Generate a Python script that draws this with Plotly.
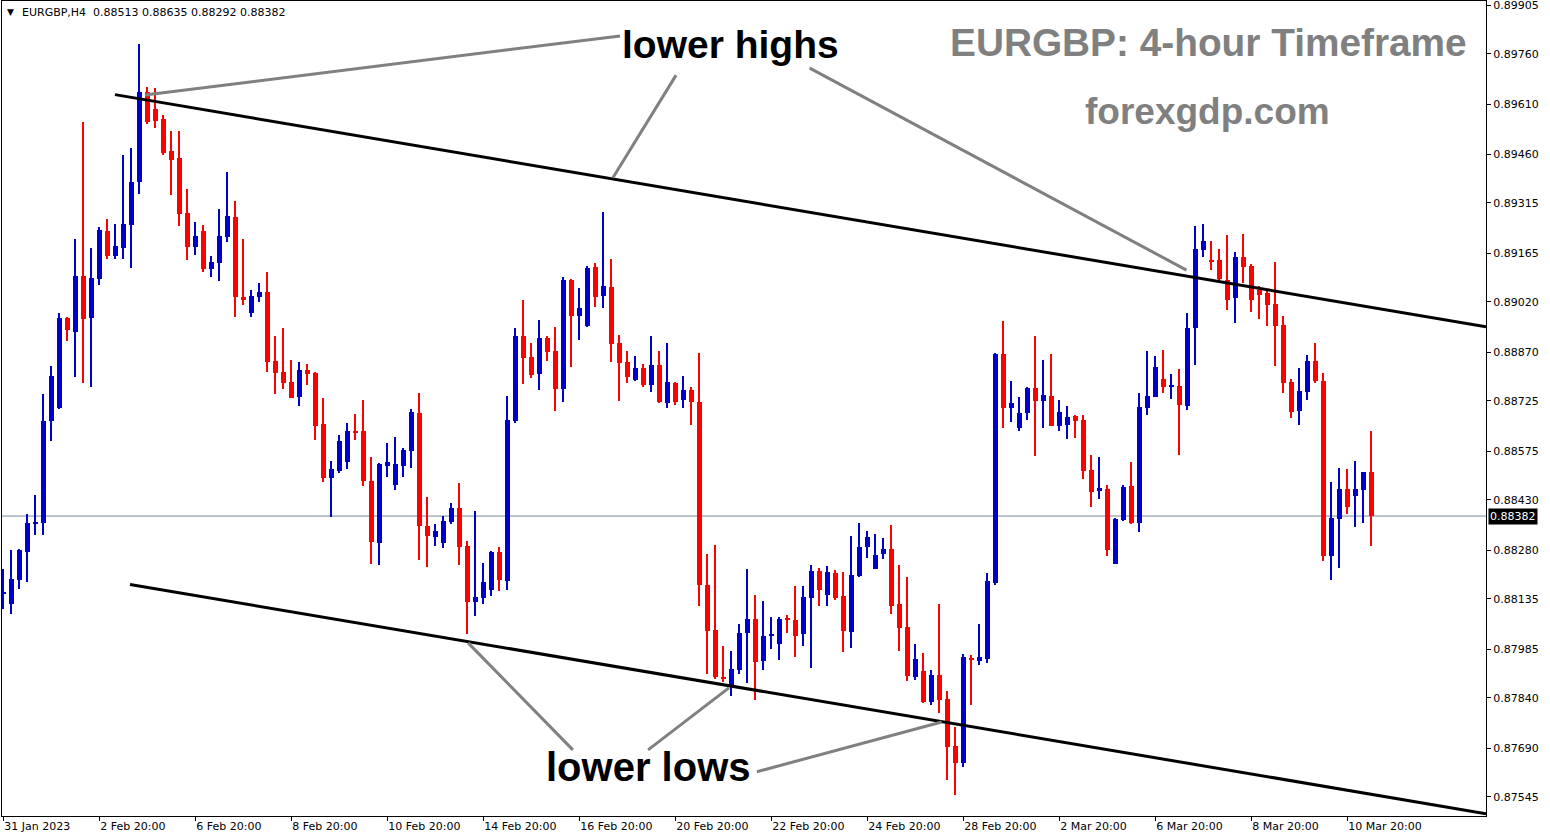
import plotly.graph_objects as go

# ---------------- data (EURGBP H4 candles) ----------------
opens = [0.88150, 0.88120, 0.88192, 0.88275, 0.88358, 0.88362, 0.88664, 0.88703, 0.88971, 0.88932,
         0.89098, 0.88972, 0.89089, 0.89232, 0.89157, 0.89181, 0.89250, 0.89378, 0.89646, 0.89595,
         0.89565, 0.89470, 0.89449, 0.89285, 0.89184, 0.89232, 0.89118, 0.89136, 0.89214, 0.89273,
         0.89035, 0.88987, 0.89036, 0.89050, 0.88844, 0.88811, 0.88782, 0.88738, 0.88817, 0.88808,
         0.88656, 0.88496, 0.88517, 0.88544, 0.88636, 0.88636, 0.88487, 0.88303, 0.88532, 0.88476,
         0.88532, 0.88577, 0.88689, 0.88353, 0.88321, 0.88303, 0.88365, 0.88406, 0.88293, 0.88127,
         0.88139, 0.88163, 0.88275, 0.88189, 0.88666, 0.88919, 0.88856, 0.88806, 0.88913, 0.88874,
         0.88762, 0.89086, 0.88979, 0.88949, 0.89124, 0.89039, 0.89065, 0.88898, 0.88841, 0.88786,
         0.88823, 0.88774, 0.88832, 0.88720, 0.88779, 0.88729, 0.88758, 0.88723, 0.88177, 0.88043,
         0.87901, 0.87877, 0.87924, 0.88032, 0.88075, 0.87951, 0.88026, 0.88002, 0.88076, 0.88072,
         0.88029, 0.88139, 0.88218, 0.88148, 0.88212, 0.88144, 0.88035, 0.88204, 0.88291, 0.88225,
         0.88270, 0.88284, 0.88120, 0.88052, 0.87903, 0.87920, 0.87829, 0.87908, 0.87837, 0.87697,
         0.87647, 0.87956, 0.87951, 0.87957, 0.88181, 0.88865, 0.88705, 0.88645, 0.88690, 0.88764,
         0.88726, 0.88740, 0.88651, 0.88654, 0.88680, 0.88668, 0.88519, 0.88458, 0.88463, 0.88240,
         0.88370, 0.88472, 0.88362, 0.88705, 0.88738, 0.88791, 0.88768, 0.88770, 0.88711, 0.88943,
         0.89176, 0.89145, 0.89145, 0.89086, 0.89033, 0.89154, 0.89127, 0.89056, 0.89047, 0.89014,
         0.88952, 0.88782, 0.88696, 0.88753, 0.88844, 0.88785, 0.88264, 0.88373, 0.88463, 0.88443,
         0.88461, 0.88513]
highs = [0.88224, 0.88281, 0.88283, 0.88388, 0.88445, 0.88746, 0.88829, 0.88987, 0.88975, 0.89208,
         0.89556, 0.89181, 0.89244, 0.89267, 0.89253, 0.89458, 0.89479, 0.89789, 0.89661, 0.89658,
         0.89577, 0.89530, 0.89530, 0.89357, 0.89258, 0.89250, 0.89157, 0.89297, 0.89407, 0.89321,
         0.89208, 0.89056, 0.89077, 0.89109, 0.88919, 0.88943, 0.88847, 0.88841, 0.88835, 0.88810,
         0.88734, 0.88546, 0.88624, 0.88659, 0.88686, 0.88728, 0.88558, 0.88540, 0.88600, 0.88618,
         0.88585, 0.88701, 0.88749, 0.88440, 0.88358, 0.88382, 0.88421, 0.88481, 0.88308, 0.88397,
         0.88242, 0.88277, 0.88290, 0.88740, 0.88943, 0.89026, 0.88898, 0.88966, 0.88919, 0.88946,
         0.89095, 0.89089, 0.89062, 0.89127, 0.89136, 0.89288, 0.89148, 0.88922, 0.88874, 0.88859,
         0.88835, 0.88919, 0.88874, 0.88898, 0.88782, 0.88800, 0.88767, 0.88868, 0.88270, 0.88297,
         0.87996, 0.87980, 0.88060, 0.88224, 0.88147, 0.88129, 0.88082, 0.88082, 0.88088, 0.88174,
         0.88174, 0.88236, 0.88227, 0.88233, 0.88221, 0.88215, 0.88323, 0.88362, 0.88338, 0.88329,
         0.88317, 0.88356, 0.88236, 0.88201, 0.88001, 0.87974, 0.87923, 0.88120, 0.87861, 0.87754,
         0.87971, 0.87969, 0.88060, 0.88212, 0.88868, 0.88963, 0.88785, 0.88737, 0.88767, 0.88919,
         0.88847, 0.88865, 0.88728, 0.88710, 0.88682, 0.88683, 0.88564, 0.88558, 0.88475, 0.88376,
         0.88475, 0.88543, 0.88749, 0.88874, 0.88859, 0.88877, 0.88806, 0.88820, 0.88987, 0.89247,
         0.89253, 0.89202, 0.89178, 0.89220, 0.89169, 0.89223, 0.89133, 0.89068, 0.89053, 0.89139,
         0.88978, 0.88791, 0.88823, 0.88862, 0.88898, 0.88808, 0.88484, 0.88526, 0.88523, 0.88547,
         0.88513, 0.88635]
lows = [0.88105, 0.88090, 0.88165, 0.88186, 0.88326, 0.88326, 0.88606, 0.88700, 0.88904, 0.88797,
        0.88779, 0.88767, 0.89071, 0.89148, 0.89148, 0.89148, 0.89121, 0.89342, 0.89550, 0.89539,
        0.89458, 0.89339, 0.89247, 0.89145, 0.89160, 0.89109, 0.89095, 0.89083, 0.89199, 0.88975,
        0.89011, 0.88975, 0.89021, 0.88811, 0.88747, 0.88762, 0.88733, 0.88711, 0.88773, 0.88610,
        0.88482, 0.88380, 0.88511, 0.88523, 0.88610, 0.88473, 0.88240, 0.88237, 0.88499, 0.88461,
        0.88499, 0.88526, 0.88252, 0.88231, 0.88294, 0.88288, 0.88359, 0.88237, 0.88029, 0.88085,
        0.88121, 0.88145, 0.88160, 0.88163, 0.88660, 0.88777, 0.88792, 0.88759, 0.88845, 0.88696,
        0.88723, 0.88827, 0.88908, 0.88946, 0.89006, 0.89003, 0.88842, 0.88726, 0.88780, 0.88784,
        0.88768, 0.88753, 0.88720, 0.88705, 0.88714, 0.88705, 0.88654, 0.88115, 0.87912, 0.87897,
        0.87888, 0.87847, 0.87912, 0.87883, 0.87834, 0.87924, 0.87987, 0.87954, 0.88032, 0.87963,
        0.87996, 0.87930, 0.88115, 0.88115, 0.88133, 0.87978, 0.87990, 0.88201, 0.88258, 0.88224,
        0.88255, 0.88091, 0.87981, 0.87891, 0.87894, 0.87826, 0.87820, 0.87796, 0.87596, 0.87550,
        0.87635, 0.87820, 0.87939, 0.87945, 0.88175, 0.88645, 0.88663, 0.88634, 0.88669, 0.88562,
        0.88645, 0.88649, 0.88634, 0.88613, 0.88616, 0.88493, 0.88410, 0.88434, 0.88264, 0.88238,
        0.88367, 0.88358, 0.88335, 0.88684, 0.88736, 0.88750, 0.88732, 0.88565, 0.88699, 0.88833,
        0.89155, 0.89116, 0.89085, 0.88997, 0.88958, 0.89077, 0.88991, 0.88970, 0.88949, 0.88830,
        0.88750, 0.88675, 0.88654, 0.88729, 0.88780, 0.88249, 0.88192, 0.88228, 0.88389, 0.88350,
        0.88362, 0.88292]
closes = [0.88156, 0.88195, 0.88281, 0.88362, 0.88364, 0.88665, 0.88800, 0.88971, 0.88937, 0.89098,
          0.88969, 0.89092, 0.89235, 0.89157, 0.89187, 0.89253, 0.89378, 0.89646, 0.89555, 0.89559,
          0.89464, 0.89443, 0.89282, 0.89184, 0.89217, 0.89118, 0.89139, 0.89217, 0.89276, 0.89035,
          0.89026, 0.89038, 0.89050, 0.88842, 0.88809, 0.88780, 0.88735, 0.88817, 0.88806, 0.88651,
          0.88496, 0.88522, 0.88606, 0.88636, 0.88631, 0.88485, 0.88306, 0.88537, 0.88543, 0.88537,
          0.88579, 0.88692, 0.88353, 0.88324, 0.88338, 0.88367, 0.88406, 0.88291, 0.88127, 0.88141,
          0.88186, 0.88275, 0.88192, 0.88668, 0.88919, 0.88854, 0.88803, 0.88913, 0.88872, 0.88762,
          0.89086, 0.88979, 0.89002, 0.89121, 0.89036, 0.89068, 0.88896, 0.88839, 0.88795, 0.88823,
          0.88774, 0.88832, 0.88723, 0.88782, 0.88723, 0.88758, 0.88723, 0.88175, 0.88040, 0.87903,
          0.87899, 0.87926, 0.88034, 0.88075, 0.87947, 0.88025, 0.88031, 0.88075, 0.88073, 0.88023,
          0.88141, 0.88218, 0.88163, 0.88215, 0.88139, 0.88038, 0.88206, 0.88290, 0.88320, 0.88266,
          0.88284, 0.88115, 0.88047, 0.87906, 0.87956, 0.87829, 0.87908, 0.87835, 0.87695, 0.87647,
          0.87962, 0.87953, 0.87962, 0.88189, 0.88865, 0.88705, 0.88719, 0.88689, 0.88764, 0.88726,
          0.88743, 0.88651, 0.88692, 0.88677, 0.88666, 0.88517, 0.88455, 0.88466, 0.88282, 0.88373,
          0.88469, 0.88362, 0.88707, 0.88740, 0.88826, 0.88768, 0.88773, 0.88714, 0.88943, 0.89178,
          0.89202, 0.89140, 0.89087, 0.89027, 0.89154, 0.89124, 0.89027, 0.89042, 0.89012, 0.88949,
          0.88780, 0.88693, 0.88755, 0.88844, 0.88783, 0.88264, 0.88376, 0.88463, 0.88410, 0.88463,
          0.88513, 0.88382]

date_tick_idx = [0, 12, 24, 36, 48, 60, 72, 84, 96, 108, 120, 132, 144, 156, 168]
date_tick_text = ["31 Jan 2023", "2 Feb 20:00", "6 Feb 20:00", "8 Feb 20:00", "10 Feb 20:00",
                  "14 Feb 20:00", "16 Feb 20:00", "20 Feb 20:00", "22 Feb 20:00", "24 Feb 20:00",
                  "28 Feb 20:00", "2 Mar 20:00", "6 Mar 20:00", "8 Mar 20:00", "10 Mar 20:00"]
price_ticks = [0.89905, 0.89760, 0.89610, 0.89460, 0.89315, 0.89165, 0.89020, 0.88870, 0.88725,
               0.88575, 0.88430, 0.88280, 0.88135, 0.87985, 0.87840, 0.87690, 0.87545]
price_tick_text = ["%.5f" % v for v in price_ticks]
last_price = 0.88382
header_text = "EURGBP,H4\u00a0\u00a00.88513 0.88635 0.88292 0.88382"

# channel lines (bar index, price)
upper_channel = [(13.96, 0.89638), (185.34, 0.88946)]
lower_channel = [(15.84, 0.88178), (185.34, 0.87495)]
# pointer lines for the labels (bar index, price)
high_pointers = [[(77.1, 0.89813), (17.7, 0.89637)],
                 [(84.1, 0.89696), (76.2, 0.89390)],
                 [(100.8, 0.89717), (147.9, 0.89115)]]
low_pointers = [[(71.2, 0.87685), (58.1, 0.88004)],
                [(80.6, 0.87685), (90.7, 0.87870)],
                [(94.2, 0.87620), (117.3, 0.87768)]]
lower_highs_pos = (90.96, 0.89786)
lower_lows_pos = (80.6, 0.87634)

X_RANGE = [-0.1625, 185.34]
Y_RANGE = [0.87488, 0.89917]

BULL = "#0000CD"
BEAR = "#FF0000"

# ---------------- figure ----------------
n = len(opens)
xs = list(range(n))
colors = [BULL if c >= o else BEAR for o, c in zip(opens, closes)]
wick_len = [h - l for h, l in zip(highs, lows)]
body_base = [min(o, c) for o, c in zip(opens, closes)]
body_len = [max(abs(c - o), 0.00003) for o, c in zip(opens, closes)]

fig = go.Figure()
fig.add_trace(go.Bar(x=xs, y=wick_len, base=lows, width=0.14,
                     marker=dict(color=colors, line=dict(width=0)), hoverinfo="skip"))
fig.add_trace(go.Bar(x=xs, y=body_len, base=body_base, width=0.66,
                     marker=dict(color=colors, line=dict(width=0)), hoverinfo="skip"))

# current price line
fig.add_shape(type="line", xref="paper", x0=0, x1=1, yref="y", y0=last_price, y1=last_price,
              line=dict(color="#778899", width=1), layer="below")

# channel lines
for seg in (upper_channel, lower_channel):
    fig.add_shape(type="line", xref="x", yref="y", x0=seg[0][0], y0=seg[0][1],
                  x1=seg[1][0], y1=seg[1][1], line=dict(color="black", width=3))
# pointer lines
for seg in high_pointers + low_pointers:
    fig.add_shape(type="line", xref="x", yref="y", x0=seg[0][0], y0=seg[0][1],
                  x1=seg[1][0], y1=seg[1][1], line=dict(color="#808080", width=3))

big_font = dict(family="Liberation Sans", size=39, color="black", weight="bold")
fig.add_annotation(x=lower_highs_pos[0], y=lower_highs_pos[1], xref="x", yref="y",
                   xanchor="center", yanchor="middle",
                   text="lower highs", showarrow=False, font=big_font)
fig.add_annotation(x=lower_lows_pos[0], y=lower_lows_pos[1], xref="x", yref="y",
                   xanchor="center", yanchor="middle",
                   text="lower lows", showarrow=False,
                   font=dict(family="Liberation Sans", size=40, color="black", weight="bold"))
fig.add_annotation(x=0.9865, y=0.9485, xref="paper", yref="paper", xanchor="right",
                   yanchor="middle", xshift=3, text="EURGBP: 4-hour Timeframe", showarrow=False,
                   font=dict(family="Liberation Sans", size=38.8, color="#808080", weight="bold"))
fig.add_annotation(x=0.812, y=0.865, xref="paper", yref="paper", xanchor="center",
                   yanchor="middle", text="forexgdp.com", showarrow=False,
                   font=dict(family="Liberation Sans", size=37, color="#808080", weight="bold"))

# header
fig.add_annotation(x=0, y=1, xref="paper", yref="paper", xanchor="left", yanchor="top",
                   xshift=3, yshift=-4, text="\u25BC", showarrow=False,
                   font=dict(family="DejaVu Sans", size=9, color="black"))
fig.add_annotation(x=0, y=1, xref="paper", yref="paper", xanchor="left", yanchor="top",
                   xshift=18, yshift=-3, text=header_text, showarrow=False,
                   font=dict(family="DejaVu Sans", size=11, color="black"))

# price label
fig.add_annotation(x=1, y=last_price, xref="paper", yref="y", xanchor="left", yanchor="middle",
                   xshift=2, text="%.5f" % last_price, showarrow=False, bgcolor="black",
                   borderpad=1, font=dict(family="DejaVu Sans", size=11, color="white"))

fig.update_layout(
    width=1550, height=840,
    margin=dict(l=2, r=64, t=1, b=24, autoexpand=False),
    paper_bgcolor="white", plot_bgcolor="white",
    barmode="overlay", bargap=0, showlegend=False,
    xaxis=dict(range=X_RANGE, tickmode="array", tickvals=date_tick_idx, ticktext=date_tick_text,
               ticks="outside", ticklen=4, tickcolor="black", showgrid=False, zeroline=False,
               showline=True, linecolor="black", linewidth=1, mirror=True,
               ticklabelposition="outside right", ticklabeloverflow="allow",
               tickfont=dict(family="DejaVu Sans", size=11, color="black")),
    yaxis=dict(range=Y_RANGE, side="right", tickmode="array", tickvals=price_ticks,
               ticktext=price_tick_text, ticks="outside", ticklen=4, tickcolor="black",
               showgrid=False, zeroline=False, showline=True, linecolor="black", linewidth=1,
               mirror=True, ticklabeloverflow="allow",
               tickfont=dict(family="DejaVu Sans", size=11, color="black")),
)

fig.write_html("out.html", config={"displayModeBar": False},
               post_script="document.body.style.margin='0px';document.body.style.overflow='hidden';")
